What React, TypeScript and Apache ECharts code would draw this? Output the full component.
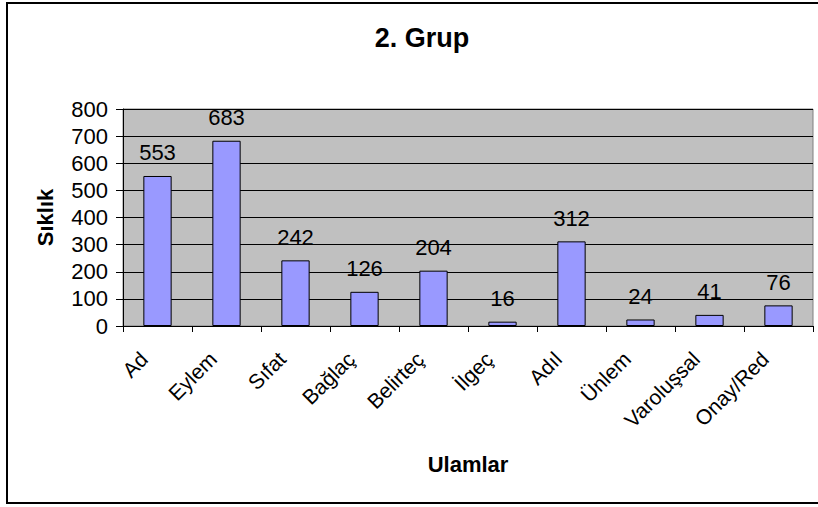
import React, { useEffect, useRef } from "react";
import * as echarts from "echarts";

const categories = ["Ad", "Eylem", "Sıfat", "Bağlaç", "Belirteç", "İlgeç", "Adıl", "Ünlem", "Varoluşsal", "Onay/Red"];
const values = [553, 683, 242, 126, 204, 16, 312, 24, 41, 76];
const titleText = "2. Grup";
const yName = "Sıklık";
const xName = "Ulamlar";

const FONT = "'Liberation Sans', Arial, sans-serif";

export default function App() {
  const ref = useRef<HTMLDivElement>(null);
  useEffect(() => {
    if (!ref.current) return;
    const chart = echarts.init(ref.current, undefined, { renderer: "svg" });
    chart.setOption({
      animation: false,
      backgroundColor: "#ffffff",
      textStyle: { fontFamily: FONT },
      title: {
        text: titleText,
        left: 417,
        top: 19,
        textAlign: "center",
        textStyle: { fontFamily: FONT, fontSize: 27, fontWeight: "bold", color: "#000" },
      },
      graphic: [
        {
          type: "rect",
          shape: { x: 7, y: 3, width: 830, height: 500 },
          style: { fill: "none", stroke: "#000", lineWidth: 2 },
          silent: true,
        },
      ],
      grid: {
        left: 123,
        top: 109,
        right: 5,
        bottom: 181,
        show: true,
        backgroundColor: "#C0C0C0",
        borderColor: "#808080",
        borderWidth: 1,
      },
      xAxis: {
        type: "category",
        data: categories,
        name: xName,
        nameLocation: "middle",
        nameGap: 127,
        nameTextStyle: { fontFamily: FONT, fontSize: 22, fontWeight: "bold", color: "#000" },
        axisLine: { lineStyle: { color: "#000", width: 1 } },
        axisTick: { show: true, alignWithLabel: false, length: 6, lineStyle: { color: "#000" } },
        axisLabel: {
          rotate: 45,
          fontFamily: FONT,
          fontSize: 21,
          color: "#000",
          margin: 16,
          padding: [0, 19, 0, 0],
          interval: 0,
        },
      },
      yAxis: {
        type: "value",
        min: 0,
        max: 800,
        interval: 100,
        name: yName,
        nameLocation: "middle",
        nameRotate: 90,
        nameGap: 67,
        nameTextStyle: { fontFamily: FONT, fontSize: 22, fontWeight: "bold", color: "#000" },
        axisLine: { show: true, lineStyle: { color: "#000", width: 1 } },
        axisTick: { show: true, length: 7, lineStyle: { color: "#000" } },
        axisLabel: { fontFamily: FONT, fontSize: 22, color: "#000", margin: 15 },
        splitLine: { show: true, lineStyle: { color: "#000", width: 1 } },
      },
      series: [
        {
          type: "bar",
          data: values,
          barCategoryGap: "59%",
          itemStyle: { color: "#9999FF", borderColor: "#000", borderWidth: 1 },
          label: {
            show: true,
            position: "top",
            distance: 12,
            fontFamily: FONT,
            fontSize: 22,
            color: "#000",
          },
        },
      ],
    });
    return () => chart.dispose();
  }, []);
  return <div ref={ref} style={{ position: "fixed", left: 0, top: 0, width: 818, height: 507 }} />;
}
